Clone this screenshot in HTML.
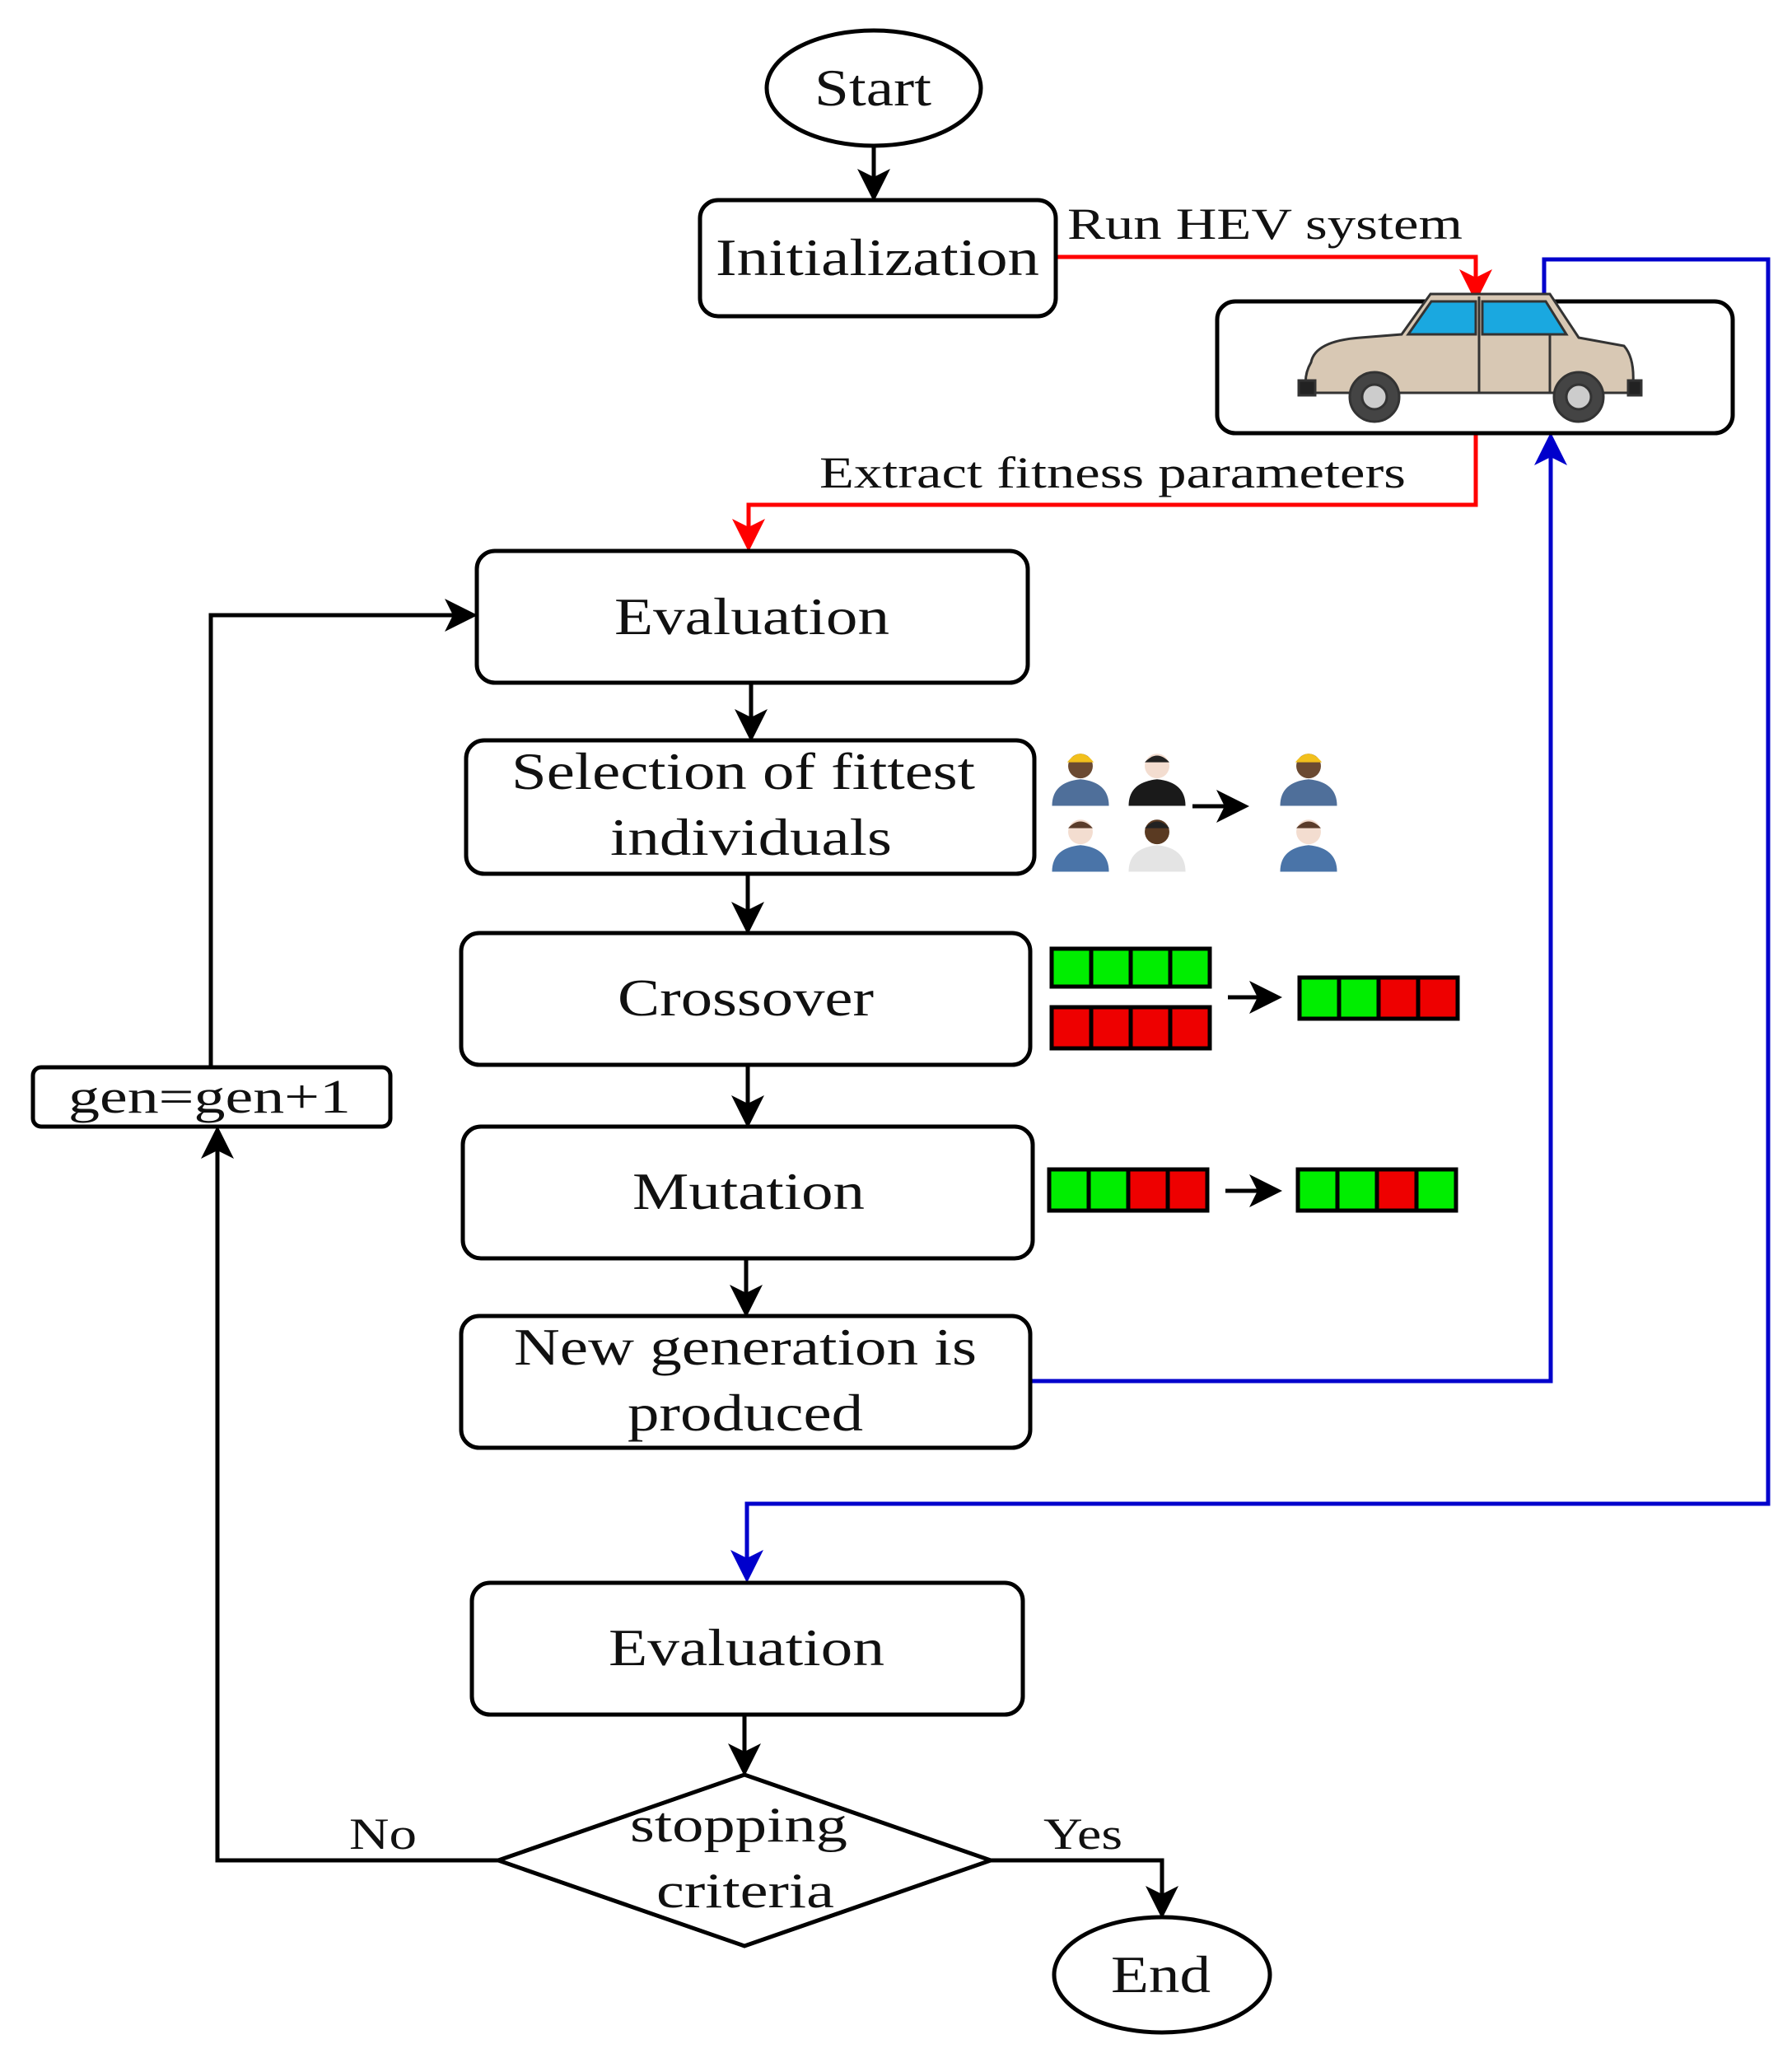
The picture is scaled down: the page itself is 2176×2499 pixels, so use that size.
<!DOCTYPE html>
<html><head><meta charset="utf-8"><style>html,body{margin:0;padding:0;background:#fff}svg{display:block}</style></head>
<body>
<svg width="2176" height="2499" viewBox="0 0 2176 2499" xmlns="http://www.w3.org/2000/svg" font-family="'Liberation Serif', serif">
<defs>
<marker id="ak" markerWidth="8" markerHeight="8" refX="7" refY="4" orient="auto" markerUnits="strokeWidth"><path d="M0,0 L8,4 L0,8 L2,4 z" fill="#000"/></marker>
<marker id="ar" markerWidth="8" markerHeight="8" refX="7" refY="4" orient="auto" markerUnits="strokeWidth"><path d="M0,0 L8,4 L0,8 L2,4 z" fill="#f00"/></marker>
<marker id="ab" markerWidth="8" markerHeight="8" refX="7" refY="4" orient="auto" markerUnits="strokeWidth"><path d="M0,0 L8,4 L0,8 L2,4 z" fill="#00c"/></marker>
</defs>
<g fill="none" stroke-width="5">
<g stroke="#000">
<line x1="1061" y1="177" x2="1061" y2="240" marker-end="url(#ak)"/>
<line x1="912" y1="829" x2="912" y2="896" marker-end="url(#ak)"/>
<line x1="908" y1="1061" x2="908" y2="1130" marker-end="url(#ak)"/>
<line x1="908" y1="1293" x2="908" y2="1365" marker-end="url(#ak)"/>
<line x1="906" y1="1528" x2="906" y2="1595" marker-end="url(#ak)"/>
<line x1="904" y1="2082" x2="904" y2="2152" marker-end="url(#ak)"/>
<polyline points="605,2259 264,2259 264,1372" marker-end="url(#ak)"/>
<polyline points="256,1296 256,747 575,747" marker-end="url(#ak)"/>
<polyline points="1203,2259 1411,2259 1411,2325" marker-end="url(#ak)"/>
</g>
<g stroke="#f00">
<polyline points="1282,312 1792,312 1792,362" marker-end="url(#ar)"/>
<polyline points="1792,526 1792,613 909,613 909,665" marker-end="url(#ar)"/>
</g>
<g stroke="#0000cc">
<polyline points="1875,366 1875,315 2147,315 2147,1826 907,1826 907,1917" marker-end="url(#ab)"/>
<polyline points="1251,1677 1883,1677 1883,530" marker-end="url(#ab)"/>
</g>
<g stroke="#000" fill="#fff">
<ellipse cx="1061" cy="107" rx="130" ry="70"/>
<rect x="850" y="243" width="432" height="141" rx="22"/>
<rect x="1478" y="366" width="626" height="160" rx="22"/>
<rect x="579" y="669" width="669" height="160" rx="22"/>
<rect x="566" y="899" width="690" height="162" rx="22"/>
<rect x="560" y="1133" width="691" height="160" rx="22"/>
<rect x="562" y="1368" width="692" height="160" rx="22"/>
<rect x="560" y="1598" width="691" height="160" rx="22"/>
<rect x="40" y="1296" width="434" height="72" rx="10"/>
<rect x="573" y="1922" width="669" height="160" rx="22"/>
<polygon points="605,2259 904,2155 1203,2259 904,2363"/>
<ellipse cx="1411" cy="2398" rx="131" ry="70"/>
</g>
</g>
<g font-size="64" fill="#111" lengthAdjust="spacingAndGlyphs">
<text x="989" y="128" textLength="142" lengthAdjust="spacingAndGlyphs">Start</text>
<text x="869" y="334" textLength="393" lengthAdjust="spacingAndGlyphs">Initialization</text>
<text x="746" y="770" textLength="334" lengthAdjust="spacingAndGlyphs">Evaluation</text>
<text x="621" y="958" textLength="563" lengthAdjust="spacingAndGlyphs">Selection of fittest</text>
<text x="741" y="1038" textLength="342" lengthAdjust="spacingAndGlyphs">individuals</text>
<text x="750" y="1233" textLength="311" lengthAdjust="spacingAndGlyphs">Crossover</text>
<text x="768" y="1468" textLength="282" lengthAdjust="spacingAndGlyphs">Mutation</text>
<text x="624" y="1657" textLength="562" lengthAdjust="spacingAndGlyphs">New generation is</text>
<text x="762" y="1737" textLength="286" lengthAdjust="spacingAndGlyphs">produced</text>
<text x="83" y="1351" font-size="58" textLength="343" lengthAdjust="spacingAndGlyphs">gen=gen+1</text>
<text x="739" y="2022" textLength="335" lengthAdjust="spacingAndGlyphs">Evaluation</text>
<text x="765" y="2236" font-size="60" textLength="264" lengthAdjust="spacingAndGlyphs">stopping</text>
<text x="797" y="2316" font-size="60" textLength="216" lengthAdjust="spacingAndGlyphs">criteria</text>
<text x="1349" y="2419" textLength="121" lengthAdjust="spacingAndGlyphs">End</text>
</g>
<g font-size="54" fill="#111">
<text x="1296" y="290" textLength="480" lengthAdjust="spacingAndGlyphs">Run HEV system</text>
<text x="995" y="592" textLength="712" lengthAdjust="spacingAndGlyphs">Extract fitness parameters</text>
<text x="424" y="2245" textLength="82" lengthAdjust="spacingAndGlyphs">No</text>
<text x="1267" y="2245" textLength="96" lengthAdjust="spacingAndGlyphs">Yes</text>
</g>
<g transform="translate(1782,452)" stroke="#333" stroke-width="3">
<path d="M-190,-12 Q-185,-38 -130,-42 L-80,-46 L-45,-95 L100,-95 L135,-42 L190,-32 Q205,-15 200,25 L-195,25 Q-200,5 -190,-12 z" fill="#d8c8b4"/>
<path d="M-72,-46 L-44,-86 L10,-86 L10,-46 z" fill="#1aa8e0"/>
<path d="M18,-46 L18,-86 L95,-86 L120,-46 z" fill="#1aa8e0"/>
<line x1="14" y1="-92" x2="14" y2="25"/>
<line x1="100" y1="-46" x2="100" y2="25"/>
<rect x="-205" y="10" width="20" height="18" fill="#222"/>
<rect x="195" y="10" width="16" height="18" fill="#222"/>
<circle cx="-113" cy="30" r="30" fill="#444"/><circle cx="-113" cy="30" r="15" fill="#ccc"/>
<circle cx="135" cy="30" r="30" fill="#444"/><circle cx="135" cy="30" r="15" fill="#ccc"/>
</g>
<g>
<g transform="translate(1312,944) scale(1.15)"><path d="M-30,30 Q-30,5 0,2 Q30,5 30,30 z" fill="#4f6f9a"/><circle cx="0" cy="-12" r="13" fill="#6b4a32"/><path d="M-14,-16 Q0,-34 14,-16 z" fill="#f2c01c"/></g>
<g transform="translate(1405,944) scale(1.15)"><path d="M-30,30 Q-30,5 0,2 Q30,5 30,30 z" fill="#1a1a1a"/><circle cx="0" cy="-12" r="13" fill="#f3ddd0"/><path d="M-13,-16 Q0,-30 13,-16 z" fill="#222"/></g>
<g transform="translate(1312,1024) scale(1.15)"><path d="M-30,30 Q-30,5 0,2 Q30,5 30,30 z" fill="#4a74a8"/><circle cx="0" cy="-12" r="13" fill="#f3ddd0"/><path d="M-13,-16 Q0,-30 13,-16 z" fill="#5a3c2a"/></g>
<g transform="translate(1405,1024) scale(1.15)"><path d="M-30,30 Q-30,5 0,2 Q30,5 30,30 z" fill="#e4e4e4"/><circle cx="0" cy="-12" r="13" fill="#5a3a22"/><path d="M-13,-16 Q0,-30 13,-16 z" fill="#222"/></g>
<g transform="translate(1589,944) scale(1.15)"><path d="M-30,30 Q-30,5 0,2 Q30,5 30,30 z" fill="#4f6f9a"/><circle cx="0" cy="-12" r="13" fill="#6b4a32"/><path d="M-14,-16 Q0,-34 14,-16 z" fill="#f2c01c"/></g>
<g transform="translate(1589,1024) scale(1.15)"><path d="M-30,30 Q-30,5 0,2 Q30,5 30,30 z" fill="#4a74a8"/><circle cx="0" cy="-12" r="13" fill="#f3ddd0"/><path d="M-13,-16 Q0,-30 13,-16 z" fill="#5a3c2a"/></g>
<line x1="1448" y1="979" x2="1512" y2="979" stroke="#000" stroke-width="5" marker-end="url(#ak)"/>
</g>
<g stroke="#000" stroke-width="5">
<g fill="#00ee00"><rect x="1277" y="1152" width="48" height="46"/><rect x="1325" y="1152" width="48" height="46"/><rect x="1373" y="1152" width="48" height="46"/><rect x="1421" y="1152" width="48" height="46"/></g>
<g fill="#ee0000"><rect x="1277" y="1223" width="48" height="50"/><rect x="1325" y="1223" width="48" height="50"/><rect x="1373" y="1223" width="48" height="50"/><rect x="1421" y="1223" width="48" height="50"/></g>
<rect x="1578" y="1187" width="48" height="50" fill="#00ee00"/><rect x="1626" y="1187" width="48" height="50" fill="#00ee00"/><rect x="1674" y="1187" width="48" height="50" fill="#ee0000"/><rect x="1722" y="1187" width="48" height="50" fill="#ee0000"/>
<rect x="1274" y="1420" width="48" height="50" fill="#00ee00"/><rect x="1322" y="1420" width="48" height="50" fill="#00ee00"/><rect x="1370" y="1420" width="48" height="50" fill="#ee0000"/><rect x="1418" y="1420" width="48" height="50" fill="#ee0000"/>
<rect x="1576" y="1420" width="48" height="50" fill="#00ee00"/><rect x="1624" y="1420" width="48" height="50" fill="#00ee00"/><rect x="1672" y="1420" width="48" height="50" fill="#ee0000"/><rect x="1720" y="1420" width="48" height="50" fill="#00ee00"/>
<line x1="1491" y1="1211" x2="1552" y2="1211" marker-end="url(#ak)"/>
<line x1="1488" y1="1446" x2="1552" y2="1446" marker-end="url(#ak)"/>
</g>
</svg>
</body></html>
